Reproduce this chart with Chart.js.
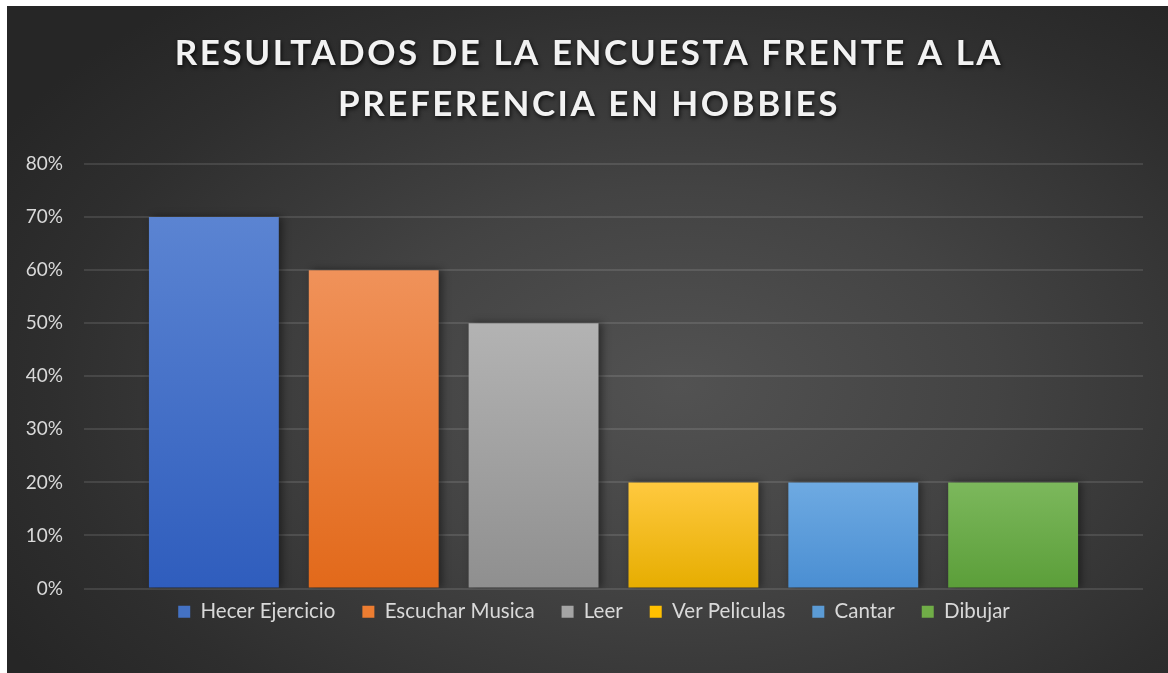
<!DOCTYPE html>
<html>
<head>
<meta charset="utf-8">
<script src="https://cdn.jsdelivr.net/npm/chart.js@4.4.0/dist/chart.umd.min.js"></script>
<style>
    html, body { margin: 0; padding: 0; background: #ffffff; overflow: hidden; }
    #marco {
        position: absolute;
        left: 7px; top: 6px;
        width: 1161px; height: 690px;
        background: radial-gradient(ellipse 68% 72% at 58% 55%, #525252 0%, #434343 40%, #2e2e2e 80%, #262626 100%);
    }
    canvas { display: block; }
</style>
</head>
<body>
<div id="marco"><canvas id="grafico" width="1161" height="667"></canvas></div>
<script>
// Datos de la encuesta
const categorias = ['Hecer Ejercicio', 'Escuchar Musica', 'Leer', 'Ver Peliculas', 'Cantar', 'Dibujar'];
const valores = [0.70, 0.60, 0.50, 0.20, 0.20, 0.20];
const etiquetasY = ['0%', '10%', '20%', '30%', '40%', '50%', '60%', '70%', '80%'];
const tituloLineas = ['RESULTADOS DE LA ENCUESTA FRENTE A LA', 'PREFERENCIA EN HOBBIES'];

// Colores (arriba / abajo del degradado, y el del recuadro de la leyenda)
const coloresArriba = ['#5b84d2', '#f0925a', '#b3b3b3', '#ffc93f', '#6eaae2', '#7cb85c'];
const coloresAbajo = ['#2f5dbd', '#e2691a', '#8f8f8f', '#e6ad00', '#4a8ed2', '#5b9e39'];
const coloresLeyenda = ['#4472c4', '#ed7d31', '#a5a5a5', '#ffc000', '#5b9bd5', '#70ad47'];

Chart.defaults.font.family = 'Lato, sans-serif';
Chart.defaults.color = '#d9d9d9';

// Degradado vertical por barra
function degradado(i) {
    return function(context) {
        const chart = context.chart;
        const escalaY = chart.scales.y;
        if (!chart.chartArea || !escalaY) return coloresAbajo[i];
        const arriba = escalaY.getPixelForValue(valores[i]);
        const abajo = escalaY.getPixelForValue(0);
        const g = chart.ctx.createLinearGradient(0, arriba, 0, abajo);
        g.addColorStop(0, coloresArriba[i]);
        g.addColorStop(1, coloresAbajo[i]);
        return g;
    };
}

// Título con espaciado entre letras y sombra
const tituloPlugin = {
    id: 'tituloPlugin',
    afterDraw(chart) {
        const ctx = chart.ctx;
        ctx.save();
        ctx.font = 'bold 35px Lato, sans-serif';
        ctx.letterSpacing = '2.5px';
        ctx.fillStyle = '#f2f2f2';
        ctx.textAlign = 'center';
        ctx.textBaseline = 'middle';
        ctx.shadowColor = 'rgba(0,0,0,0.8)';
        ctx.shadowBlur = 4;
        ctx.shadowOffsetX = 1;
        ctx.shadowOffsetY = 2;
        const cx = chart.width / 2 + 1.5;
        tituloLineas.forEach(function(linea, k) {
            ctx.fillText(linea, cx, 48 + k * 51);
        });
        ctx.restore();
    }
};

// Sombra suave de las barras
const sombraPlugin = {
    id: 'sombraPlugin',
    beforeDatasetsDraw(chart) {
        chart.ctx.save();
        chart.ctx.shadowColor = 'rgba(0,0,0,0.45)';
        chart.ctx.shadowBlur = 8;
        chart.ctx.shadowOffsetX = 3;
        chart.ctx.shadowOffsetY = 0;
    },
    afterDatasetsDraw(chart) {
        chart.ctx.restore();
    }
};

// Acerca la leyenda al área del gráfico y la centra como en el original
const leyendaPlugin = {
    id: 'leyendaPlugin',
    afterLayout(chart) {
        const ley = chart.legend;
        if (!ley) return;
        ley.top -= 14;
        ley.bottom -= 14;
        ley.left += 10;
        ley.right += 10;
    }
};

function initGrafico() {
    const ctx = document.getElementById('grafico').getContext('2d');
    new Chart(ctx, {
        type: 'bar',
        data: {
            labels: [''],
            datasets: categorias.map(function(nombre, i) {
                return {
                    label: nombre,
                    data: [valores[i]],
                    backgroundColor: degradado(i),
                    borderWidth: 0,
                    categoryPercentage: 0.9057,
                    barPercentage: 0.8125
                };
            })
        },
        options: {
            responsive: false,
            animation: false,
            layout: {
                padding: { top: 158, left: 18, right: 25, bottom: 27 }
            },
            plugins: {
                title: { display: false },
                tooltip: { enabled: false },
                legend: {
                    position: 'bottom',
                    labels: {
                        boxWidth: 12,
                        boxHeight: 12,
                        padding: 27,
                        color: '#d9d9d9',
                        font: { size: 20.5 },
                        generateLabels: function(chart) {
                            const items = Chart.defaults.plugins.legend.labels.generateLabels(chart);
                            items.forEach(function(it, i) {
                                it.fillStyle = coloresLeyenda[i];
                                it.strokeStyle = coloresLeyenda[i];
                                it.lineWidth = 0;
                            });
                            return items;
                        }
                    }
                }
            },
            scales: {
                x: {
                    grid: { display: false, drawTicks: false },
                    border: { display: false },
                    ticks: { display: false }
                },
                y: {
                    min: 0,
                    max: 0.8,
                    afterFit: function(scale) {
                        scale.width = 59;
                    },
                    ticks: {
                        stepSize: 0.1,
                        padding: 21,
                        color: '#d9d9d9',
                        font: { size: 19 },
                        callback: function(value, index) {
                            return etiquetasY[index];
                        }
                    },
                    grid: {
                        color: 'rgba(255,255,255,0.11)',
                        lineWidth: 2,
                        drawTicks: false
                    },
                    border: { display: false }
                }
            }
        },
        plugins: [tituloPlugin, sombraPlugin, leyendaPlugin]
    });
}

document.addEventListener('DOMContentLoaded', function() {
    initGrafico();
});
</script>
</body>
</html>
